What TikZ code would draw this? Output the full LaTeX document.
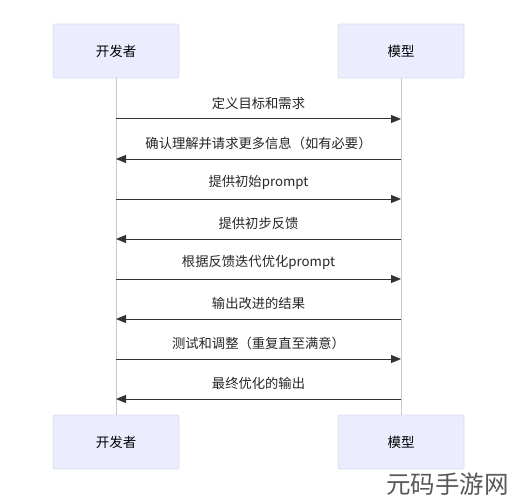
\documentclass[tikz,border=0pt]{standalone}
\usepackage{fontspec}
\setmainfont{Noto Sans CJK SC}
\usetikzlibrary{arrows.meta}
\definecolor{boxfill}{HTML}{ECECFF}
\definecolor{boxline}{HTML}{DCDCF0}
\definecolor{lifeline}{HTML}{C8C8D8}
\definecolor{msgline}{HTML}{333333}
\begin{document}
\begin{tikzpicture}[x=1pt,y=-1pt,
  actor/.style={draw=boxline,fill=boxfill,rounded corners=2pt,minimum width=126pt,minimum height=54pt,inner sep=0pt,font=\fontsize{13.5pt}{15pt}\selectfont,line width=0.8pt},
  msg/.style={draw=msgline,line width=1pt,-{Triangle[length=10pt,width=8pt]}},
  lbl/.style={font=\fontsize{13.3pt}{15pt}\selectfont,text=black!85,inner sep=0pt},
  life/.style={draw=lifeline,line width=1pt}]
\useasboundingbox (0,0) rectangle (511,500);
\node[actor] (devT) at (116,51) {开发者};
\node[actor] (modT) at (401,51) {模型};
\node[actor] (devB) at (116,442) {开发者};
\node[actor] (modB) at (401,442) {模型};
\draw[life] (devT.south) -- (devB.north);
\draw[life] (modT.south) -- (modB.north);
\foreach \i/\y in {1/119,2/159,3/199,4/239,5/279,6/319,7/359,8/399}{
  \coordinate (d\i) at (116,\y);
  \coordinate (m\i) at (401,\y);
}
\draw[msg] (d1) -- (m1) node[lbl,midway,above=9pt] {定义目标和需求};
\draw[msg] (m2) -- (d2) node[lbl,midway,above=9pt] {确认理解并请求更多信息（如有必要）};
\draw[msg] (d3) -- (m3) node[lbl,midway,above=9pt] {提供初始prompt};
\draw[msg] (m4) -- (d4) node[lbl,midway,above=9pt] {提供初步反馈};
\draw[msg] (d5) -- (m5) node[lbl,midway,above=9pt] {根据反馈迭代优化prompt};
\draw[msg] (m6) -- (d6) node[lbl,midway,above=9pt] {输出改进的结果};
\draw[msg] (d7) -- (m7) node[lbl,midway,above=9pt] {测试和调整（重复直至满意）};
\draw[msg] (m8) -- (d8) node[lbl,midway,above=9pt] {最终优化的输出};
\node[anchor=west,inner sep=0pt,text=black!65,font=\fontsize{24.5pt}{27pt}\selectfont] (wm) at (386,484) {元码手游网};
\end{tikzpicture}
\end{document}
